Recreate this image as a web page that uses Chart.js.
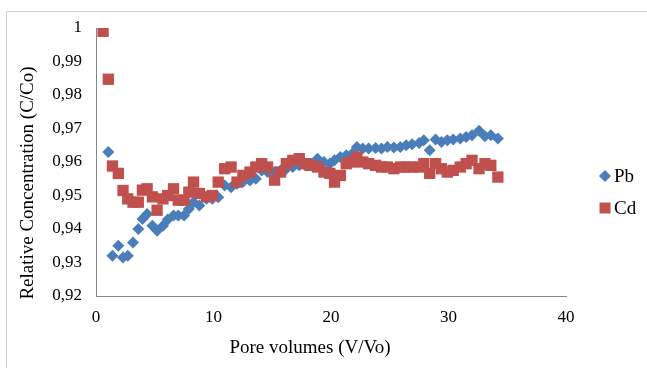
<!DOCTYPE html>
<html>
<head>
<meta charset="utf-8">
<script src="https://cdn.jsdelivr.net/npm/chart.js@4.4.0/dist/chart.umd.min.js"></script>
<style>
  body { margin: 0; background: #fff; }
  #box {
    position: absolute; left: 6px; top: 11px;
    width: 640px; height: 356px;
    border: 1px solid #d0d0d0; border-right: none; border-bottom: none;
  }
</style>
</head>
<body>
<div id="box"><canvas id="myChart" width="640" height="356"></canvas></div>
<script>
// pore volumes (V/Vo), shared by both metals
const poreVolumes = [0.6, 1.05, 1.4, 1.9, 2.3, 2.7, 3.15, 3.6, 3.95, 4.35, 4.8, 5.2, 5.7, 6.1, 6.6, 7.0, 7.5, 7.9, 8.3, 8.8,
  9.4, 9.9, 10.4, 10.95, 11.5, 12.0, 12.5, 13.1, 13.6, 14.1, 14.6, 15.2, 15.7, 16.2, 16.75, 17.3, 17.8, 18.3, 18.85, 19.4,
  19.9, 20.3, 20.8, 21.3, 21.8, 22.2, 22.7, 23.2, 23.8, 24.3, 24.8, 25.35, 25.9, 26.4, 26.9, 27.5, 27.9, 28.4, 28.9, 29.4,
  29.9, 30.4, 31.0, 31.5, 32.0, 32.6, 33.1, 33.6, 34.2];

const pbValues = [null, 0.963, 0.932, 0.935, 0.9315, 0.932, 0.936, 0.940, 0.943, 0.9445, 0.941, 0.9395, 0.941, 0.9428, 0.944, 0.944, 0.944, 0.946, 0.948, 0.947,
  0.949, 0.949, 0.9495, 0.953, 0.9525, 0.9535, 0.954, 0.9545, 0.955, 0.9575, 0.957, 0.957, 0.9575, 0.958, 0.9585, 0.959, 0.959, 0.9595, 0.961, 0.960,
  0.9595, 0.9605, 0.9615, 0.962, 0.9625, 0.9645, 0.964, 0.964, 0.9642, 0.964, 0.9645, 0.9643, 0.9645, 0.965, 0.9653, 0.9657, 0.9665, 0.9635, 0.9667, 0.966,
  0.9665, 0.9667, 0.967, 0.9675, 0.968, 0.9693, 0.9677, 0.968, 0.967];

const cdValues = [0.999, 0.9847, 0.9588, 0.9566, 0.9515, 0.949, 0.948, 0.948, 0.9516, 0.952, 0.9496, 0.9456, 0.949, 0.950, 0.952, 0.9486, 0.9486, 0.951, 0.954, 0.9506,
  0.9496, 0.950, 0.954, 0.958, 0.9585, 0.954, 0.956, 0.957, 0.9585, 0.9595, 0.9585, 0.9546, 0.957, 0.9595, 0.9605, 0.961, 0.9595, 0.959, 0.9585, 0.957,
  0.9566, 0.954, 0.956, 0.9595, 0.960, 0.9615, 0.960, 0.9595, 0.959, 0.9585, 0.9585, 0.958, 0.9585, 0.9585, 0.9585, 0.9585, 0.9595, 0.9566, 0.9595, 0.958,
  0.957, 0.9575, 0.9585, 0.9595, 0.9605, 0.958, 0.9595, 0.959, 0.9555];

const yTicks = [0.92, 0.93, 0.94, 0.95, 0.96, 0.97, 0.98, 0.99, 1];
const xTicks = [0, 10, 20, 30, 40];

function toPoints(values) {
  const pts = [];
  values.forEach((v, i) => {
    if (v !== null) pts.push({ x: poreVolumes[i], y: v });
  });
  return pts;
}

const serif = 'Liberation Serif';
const pbColor = '#4a7ebb';
const cdColor = '#c0504d';

// titles and legend drawn by hand so they sit where Excel put them
const extras = {
  id: 'extras',
  afterDraw(chart) {
    const ctx = chart.ctx;
    const area = chart.chartArea;
    ctx.save();
    ctx.fillStyle = '#000';
    ctx.font = '19px "' + serif + '"';
    ctx.textAlign = 'center';
    ctx.textBaseline = 'middle';
    ctx.fillText('Pore volumes (V/Vo)', area.left + 214, 336);

    ctx.translate(area.left - 68, 171);
    ctx.rotate(-Math.PI / 2);
    ctx.fillText('Relative Concentration (C/Co)', 0, 0);
    ctx.restore();

    // legend
    ctx.save();
    const lx = area.right + 39;
    const ly1 = 164;
    const ly2 = 196;
    ctx.fillStyle = pbColor;
    ctx.beginPath();
    ctx.moveTo(lx, ly1 - 6);
    ctx.lineTo(lx + 6, ly1);
    ctx.lineTo(lx, ly1 + 6);
    ctx.lineTo(lx - 6, ly1);
    ctx.closePath();
    ctx.fill();
    ctx.fillStyle = cdColor;
    ctx.fillRect(lx - 5.5, ly2 - 5.5, 11, 11);
    ctx.fillStyle = '#000';
    ctx.font = '19px "' + serif + '"';
    ctx.textAlign = 'left';
    ctx.textBaseline = 'middle';
    ctx.fillText('Pb', lx + 9, ly1 + 1);
    ctx.fillText('Cd', lx + 9, ly2 + 1);
    ctx.restore();
  }
};

const ctx = document.getElementById('myChart').getContext('2d');
const myChart = new Chart(ctx, {
  type: 'scatter',
  data: {
    datasets: [{
      label: 'Pb',
      data: toPoints(pbValues),
      pointStyle: 'rectRot',
      pointRadius: 6,
      pointHoverRadius: 6,
      backgroundColor: pbColor,
      borderColor: pbColor,
      borderWidth: 0,
      order: 2
    }, {
      label: 'Cd',
      data: toPoints(cdValues),
      pointStyle: 'rect',
      pointRadius: 8,
      pointHoverRadius: 8,
      backgroundColor: cdColor,
      borderColor: cdColor,
      borderWidth: 0,
      order: 1
    }]
  },
  options: {
    responsive: false,
    animation: false,
    devicePixelRatio: 1,
    layout: { padding: { left: 0, top: 16, right: 81, bottom: 0 } },
    plugins: {
      legend: { display: false },
      tooltip: { enabled: false }
    },
    scales: {
      x: {
        type: 'linear',
        min: xTicks[0],
        max: xTicks[xTicks.length - 1],
        afterBuildTicks: scale => { scale.ticks = xTicks.map(v => ({ value: v })); },
        afterFit: scale => { scale.height = 72; },
        grid: { display: false, drawTicks: false },
        border: { display: true, color: '#868686', width: 1 },
        ticks: {
          color: '#000',
          padding: 11,
          font: { family: serif, size: 17 }
        }
      },
      y: {
        type: 'linear',
        min: yTicks[0],
        max: yTicks[yTicks.length - 1],
        afterBuildTicks: scale => { scale.ticks = yTicks.map(v => ({ value: v })); },
        afterFit: scale => { scale.width = 89; scale.paddingTop = 0; scale.paddingBottom = 0; },
        grid: { display: false, drawTicks: false },
        border: { display: true, color: '#868686', width: 1 },
        ticks: {
          color: '#000',
          padding: 14,
          font: { family: serif, size: 17 },
          callback: v => String(Number(v.toFixed(2))).replace('.', ',')
        }
      }
    }
  },
  plugins: [extras]
});
</script>
</body>
</html>
